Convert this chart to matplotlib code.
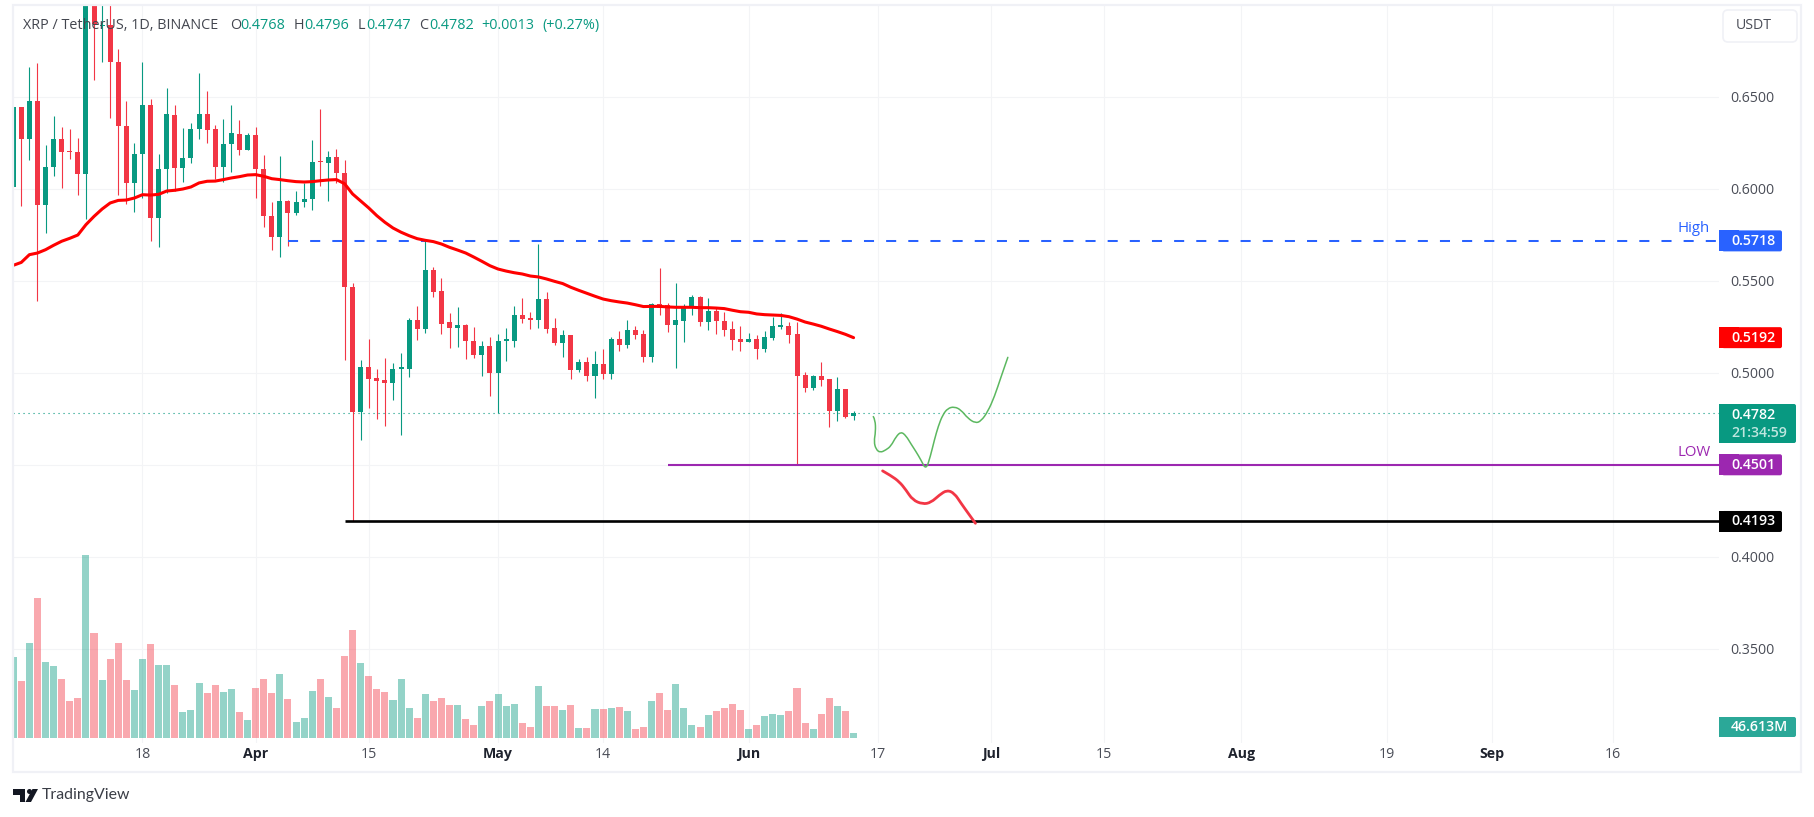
# plot.py
import matplotlib
matplotlib.use("Agg")
import matplotlib.pyplot as plt
import matplotlib.patches as mpatches
from matplotlib.path import Path

W, H = 1814, 817
plt.rcParams["font.family"] = ["Open Sans", "DejaVu Sans"]

# ─── DATA ───────────────────────────────────────────────────
opens = [
    .6009, .6447, .6270, .6480, .5911, .6118, .6274, .6203, .6203, .6080,
    .7150, .6884, .6891, .6692, .6344, .6031, .6188, .6458, .5841, .6107,
    .6404, .6112, .6167, .6324, .6409, .6324, .6118, .6243, .6301, .6210,
    .6295, .6111, .5855, .5737, .5937, .5868, .5928, .5944, .6149, .6139,
    .6176, .6089, .5469, .4786, .5034, .4975, .4964, .4947, .5024, .5024,
    .5290, .5241, .5562, .5447, .5279, .5246, .5263, .5176, .5100, .5149,
    .5002, .5176, .5176, .5317, .5301, .5290, .5404, .5246, .5165, .5208,
    .5018, .5062, .4986, .5051, .4996, .5187, .5154, .5236, .5214, .5089,
    .5377, .5371, .5263, .5284, .5355, .5415, .5279, .5339, .5284, .5241,
    .5187, .5170, .5187, .5132, .5192, .5252, .5257, .5214, .4991, .4920,
    .4986, .4969, .4795, .4915, .4768,
]
highs = [
    .6447, .6447, .6665, .6687, .6241, .6399, .6339, .6328, .6279, .7440,
    .7400, .7120, .7060, .6761, .6480, .6252, .6692, .6491, .6192, .6551,
    .6458, .6333, .6361, .6632, .6534, .6350, .6382, .6458, .6377, .6306,
    .6339, .6187, .5931, .6181, .5942, .5991, .6031, .6268, .6437, .6208,
    .6219, .6159, .5491, .5072, .5187, .5024, .5083, .5056, .5111, .5301,
    .5366, .5719, .5578, .5518, .5328, .5361, .5268, .5252, .5176, .5197,
    .5214, .5246, .5366, .5409, .5333, .5703, .5442, .5301, .5236, .5208,
    .5078, .5089, .5121, .5132, .5197, .5230, .5290, .5257, .5236, .5382,
    .5572, .5382, .5491, .5377, .5426, .5420, .5409, .5355, .5333, .5284,
    .5257, .5219, .5208, .5230, .5306, .5328, .5279, .5279, .5007, .4991,
    .5062, .4969, .4980, .4915, .4796,
]
lows = [
    .6009, .5906, .6156, .5389, .5759, .6069, .6004, .6161, .5969, .5835,
    .6591, .6688, .6384, .5966, .5917, .5873, .5949, .5716, .5683, .5976,
    .5987, .6036, .6139, .6270, .6252, .6056, .6036, .6091, .6183, .6210,
    .5949, .5792, .5667, .5629, .5688, .5857, .5900, .5884, .6014, .5933,
    .6031, .5069, .4193, .4638, .4812, .4752, .4714, .4855, .4665, .4980,
    .5181, .5219, .5415, .5214, .5138, .5143, .5078, .5083, .4986, .4877,
    .4781, .5067, .5143, .5274, .5241, .5246, .5219, .5154, .5089, .4969,
    .5007, .4958, .4866, .4969, .4969, .5121, .5138, .5187, .5062, .5062,
    .5317, .5225, .5029, .5170, .5317, .5257, .5236, .5214, .5203, .5127,
    .5121, .5170, .5078, .5116, .5181, .5241, .5165, .4501, .4899, .4909,
    .4931, .4708, .4741, .4757, .4747,
]
closes = [
    .6447, .6270, .6480, .5911, .6121, .6274, .6199, .6199, .6080, .7150,
    .6895, .6893, .6688, .6341, .6031, .6192, .6458, .5841, .6111, .6409,
    .6112, .6170, .6328, .6409, .6319, .6118, .6246, .6306, .6210, .6295,
    .6107, .5851, .5737, .5937, .5868, .5931, .5947, .6149, .6145, .6176,
    .6085, .5467, .4786, .5034, .4969, .4958, .4947, .5024, .5029, .5290,
    .5241, .5562, .5442, .5268, .5246, .5263, .5176, .5100, .5149, .5002,
    .5176, .5181, .5317, .5295, .5290, .5404, .5241, .5165, .5208, .5018,
    .5062, .4986, .5051, .4996, .5187, .5154, .5236, .5208, .5089, .5377,
    .5355, .5263, .5290, .5361, .5415, .5279, .5339, .5284, .5236, .5181,
    .5170, .5187, .5132, .5197, .5257, .5257, .5208, .4986, .4920, .4986,
    .4964, .4795, .4915, .4763, .4782,
]
volumes = [
    755, 531, 885, 1305, 708, 671, 550, 345, 373, 1706,
    979, 541, 736, 885, 541, 447, 736, 876, 680, 680,
    494, 242, 261, 513, 419, 494, 429, 457, 242, 168,
    466, 550, 419, 597, 364, 149, 186, 438, 550, 382,
    280, 764, 1007, 699, 578, 457, 429, 354, 550, 280,
    186, 410, 345, 373, 308, 308, 177, 121, 298, 345,
    410, 298, 317, 140, 103, 485, 298, 298, 261, 308,
    93, 93, 270, 270, 280, 289, 252, 84, 103, 345,
    419, 261, 503, 280, 121, 103, 214, 252, 280, 317,
    261, 84, 121, 205, 224, 214, 252, 466, 140, 84,
    224, 373, 298, 252, 46.613,
]
ma50 = [
    .5585, .5601, .5643, .5652, .5670, .5694, .5716, .5732, .5750, .5806,
    .5851, .5891, .5924, .5938, .5940, .5951, .5969, .5967, .5971, .5989,
    .5993, .6000, .6011, .6033, .6042, .6043, .6051, .6060, .6067, .6076,
    .6078, .6069, .6056, .6051, .6045, .6040, .6038, .6040, .6045, .6049,
    .6051, .6029, .5973, .5935, .5897, .5855, .5819, .5788, .5765, .5746,
    .5730, .5721, .5714, .5701, .5683, .5668, .5652, .5630, .5607, .5583,
    .5565, .5554, .5545, .5538, .5527, .5522, .5511, .5498, .5486, .5466,
    .5449, .5433, .5417, .5402, .5393, .5386, .5380, .5371, .5361, .5362,
    .5362, .5359, .5357, .5357, .5357, .5355, .5355, .5353, .5350, .5341,
    .5333, .5330, .5321, .5317, .5315, .5313, .5306, .5293, .5277, .5266,
    .5254, .5239, .5225, .5210, .5192,
]

green_x = [106.44, 106.68, 106.73, 106.52, 106.77, 107.30, 108.01, 108.63, 109.25, 109.87,
           110.49, 111.11, 111.72, 112.34, 112.96, 113.50, 114.00, 114.49, 115.03, 115.65,
           116.48, 117.30, 118.13, 119.08, 119.78, 120.61, 121.43, 122.26, 123.09]
green_y = [.4763, .4745, .4681, .4627, .4585, .4567, .4582, .4603, .4654, .4681,
           .4659, .4614, .4573, .4527, .4473, .4546, .4636, .4712, .4772, .4808,
           .4817, .4799, .4754, .4727, .4739, .4790, .4871, .4980, .5085]
red_x = [107.59, 108.63, 109.66, 110.49, 111.31, 112.55, 113.58, 114.62, 115.57, 116.48,
         117.30, 118.13, 119.08]
red_y = [.4468, .4442, .4409, .4364, .4310, .4287, .4296, .4337, .4364, .4346,
         .4292, .4241, .4183]

high_level, low_level, bottom_level, last_price, ma_last = .5718, .4501, .4193, .4782, .5192
high_start, low_start, bottom_start = 34, 81, 41

price_ticks = [.35, .40, .45, .50, .55, .60, .65]
date_ticks = [16, 30, 44, 60, 73, 91, 107, 121, 135, 152, 170, 183, 198]
date_labels = ["18", "Apr", "15", "May", "14", "Jun", "17", "Jul", "15", "Aug", "19", "Sep", "16"]
month_labels = {"Apr", "May", "Jun", "Jul", "Aug", "Sep"}

# ─── COLORS ─────────────────────────────────────────────────
UP, DOWN = "#089981", "#F23645"
GRID = "#F3F4F6"
FRAME = "#F0F1F6"
TEXT = "#4A4D57"
BLUE, PURPLE = "#2962FF", "#9C27B0"


def rect_px(left, top, right, bottom):
    return [left / W, 1 - bottom / H, (right - left) / W, (bottom - top) / H]


def freehand(xs, ys, color, lw):
    # quadratic segments through the midpoints, so the sketch keeps its round look
    verts = [(xs[0], ys[0])]
    codes = [Path.MOVETO]
    for i in range(1, len(xs) - 1):
        verts += [(xs[i], ys[i]), ((xs[i] + xs[i + 1]) / 2, (ys[i] + ys[i + 1]) / 2)]
        codes += [Path.CURVE3, Path.CURVE3]
    verts.append((xs[-1], ys[-1]))
    codes.append(Path.LINETO)
    ax.add_patch(mpatches.PathPatch(Path(verts, codes), fill=False, edgecolor=color,
                                    linewidth=lw, capstyle="round", joinstyle="round", zorder=5))


fig = plt.figure(figsize=(W / 100, H / 100), dpi=100, facecolor="white")
RECT = rect_px(13, 5, 1719, 743)

# ─── PRICE PANE ─────────────────────────────────────────────
ax = fig.add_axes(RECT, facecolor="white")
ax.set_xlim(-0.025, 211.1)
ax.set_ylim(0.2989, 0.70)
for s in ax.spines.values():
    s.set_visible(False)
ax.grid(color=GRID, linewidth=0.75, zorder=0)
ax.set_axisbelow(True)

ax.yaxis.tick_right()
ax.set_yticks(price_ticks, [f"{p:.4f}" for p in price_ticks])
ax.tick_params(axis="y", length=0, pad=8, labelsize=10.2, labelcolor=TEXT)
ax.set_xticks(date_ticks, date_labels)
ax.tick_params(axis="x", length=0, pad=3, labelsize=10.2, labelcolor=TEXT)
for lab in ax.get_xticklabels():
    if lab.get_text() in month_labels:
        lab.set_fontweight("bold")
        lab.set_color("#1E222D")

days = list(range(len(opens)))
colors = [UP if c >= o else DOWN for o, c in zip(opens, closes)]
ax.vlines(days, lows, highs, colors=colors, linewidth=0.8, zorder=2)
MIN_BODY = 0.00075
body_bottom = [min(o, c) for o, c in zip(opens, closes)]
body_height = [max(abs(c - o), MIN_BODY) for o, c in zip(opens, closes)]
ax.bar(days, body_height, bottom=body_bottom, width=0.62, color=colors, linewidth=0, zorder=3)

ax.plot(days, ma50, color="#FF0000", linewidth=2.2, zorder=4, solid_capstyle="round")

xmax = ax.get_xlim()[1]
ax.hlines(high_level, high_start, xmax, color=BLUE, linewidth=1.45, linestyle=(0, (5, 6)), zorder=2)
ax.hlines(low_level, low_start, xmax, color=PURPLE, linewidth=1.5, zorder=2)
ax.hlines(bottom_level, bottom_start, xmax, color="black", linewidth=1.9, zorder=2)
ax.hlines(last_price, ax.get_xlim()[0], xmax, color=UP, linewidth=0.8, linestyle=(0, (1, 3.5)), zorder=1)

freehand(green_x, green_y, "#5CB860", 1.1)
freehand(red_x, red_y, DOWN, 2.0)

# ─── VOLUME PANE ────────────────────────────────────────────
vol = fig.add_axes(RECT, facecolor="none")
vol.set_xlim(ax.get_xlim())
vol.set_ylim(-46.6, 6832)
vol.axis("off")
vol.bar(days, volumes, width=0.87, color=colors, alpha=0.43, linewidth=0)

# ─── OVERLAY: FRAME, TAGS, HEADER ───────────────────────────
top = fig.add_axes([0, 0, 1, 1], facecolor="none")
top.set_xlim(0, W)
top.set_ylim(H, 0)
top.axis("off")

top.add_patch(mpatches.Rectangle((13, 5), 1788, 767, fill=False, edgecolor=FRAME, linewidth=1.6))


def price_y(price):
    return H - ax.transData.transform((0, price))[1]


def tag(y, text, color, right=1782, height=21, text_color="white", size=10.2, weight="semibold"):
    top.add_patch(mpatches.Rectangle((1719, y - height / 2), 20, height, color=color, linewidth=0))
    top.add_patch(mpatches.FancyBboxPatch((1722, y - height / 2), right - 1722, height,
                                          boxstyle="round,pad=0,rounding_size=2", color=color, linewidth=0))
    if text:
        top.text(1731, y, text, color=text_color, fontsize=size, fontweight=weight, va="center", ha="left")


tag(price_y(high_level), f"{high_level:.4f}", BLUE)
tag(price_y(ma_last), f"{ma_last:.4f}", "#FF0000")
tag(price_y(low_level), f"{low_level:.4f}", PURPLE)
tag(price_y(bottom_level), f"{bottom_level:.4f}", "black")
tag(423.5, "", UP, right=1796, height=39)
top.text(1731, 414.5, f"{last_price:.4f}", color="white", fontsize=10.2, fontweight="semibold", va="center")
top.text(1731, 432.5, "21:34:59", color="#BFE6DF", fontsize=10.2, fontweight="semibold", va="center")
tag(727, "46.613M", "#2BA898", right=1796, height=20)

top.text(1694, 228, "High", color=BLUE, fontsize=10.8, ha="center", va="center")
top.text(1694, 452, "LOW", color=PURPLE, fontsize=10.8, ha="center", va="center")

top.add_patch(mpatches.FancyBboxPatch((1723, 10), 74, 32, boxstyle="round,pad=0,rounding_size=5",
                                      facecolor="white", edgecolor=FRAME, linewidth=1.2))
top.text(1736, 25.5, "USDT", color=TEXT, fontsize=10.2, va="center")

DARK = "#43464F"
header = [
    (23, "XRP / TetherUS, 1D, BINANCE", DARK),
    (230, "O", DARK), (240, "0.4768", UP),
    (294, "H", DARK), (304, "0.4796", UP),
    (358, "L", DARK), (366, "0.4747", UP),
    (419, "C", DARK), (429, "0.4782", UP),
    (481, "+0.0013", UP), (542, "(+0.27%)", UP),
]
for x0, label, col in header:
    top.text(x0, 25, label, color=col, fontsize=10.4, va="center", ha="left")

# TradingView logo
top.add_patch(mpatches.Polygon([(13, 789), (25, 789), (25, 802), (20, 802), (20, 794.5), (13, 794.5)],
                               color="#131722", linewidth=0))
top.add_patch(mpatches.Circle((29.5, 791.5), 2.5, color="#131722", linewidth=0))
top.add_patch(mpatches.Polygon([(32.5, 789), (38, 789), (31, 802), (25.5, 802)], color="#131722", linewidth=0))
top.text(42, 795.5, "TradingView", color="#3A3D46", fontsize=11.4, family="Lato", va="center", ha="left")

fig.savefig("out.png", dpi=100)
